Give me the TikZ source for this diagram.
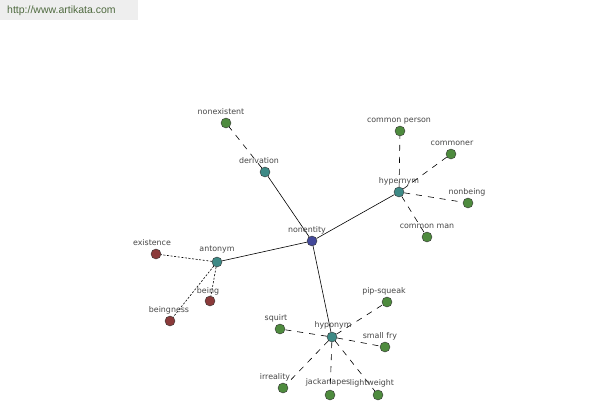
\documentclass[tikz,border=0pt]{standalone}
\usepackage{fontspec}
\setmainfont{Liberation Sans}
\newfontfamily\labfont{DejaVu Sans}
\begin{document}
\begin{tikzpicture}[x=1pt,y=-1pt,
  dot/.style={circle,draw=black!80,line width=0.4pt,minimum size=10pt,inner sep=0pt},
  lab/.style={font=\labfont\fontsize{7.9}{8.5}\selectfont,text=black!72},
  solidedge/.style={draw=black,line width=0.6pt},
  dashedge/.style={draw=black,line width=0.6pt,dash pattern=on 6pt off 6pt},
  dotedge/.style={draw=black,line width=0.6pt,dash pattern=on 2pt off 1.6pt}]
\definecolor{cgreen}{HTML}{4E8B3E}
\definecolor{cteal}{HTML}{3E8A86}
\definecolor{cblue}{HTML}{43499A}
\definecolor{cred}{HTML}{8A3A3A}
\definecolor{hdr}{HTML}{EEEEEE}
\definecolor{hdrtext}{HTML}{4F6A3F}
\tikzset{
  g/.style={dot,fill=cgreen},
  t/.style={dot,fill=cteal},
  b/.style={dot,fill=cblue},
  r/.style={dot,fill=cred}}
\useasboundingbox (0,0) rectangle (600,400);
\fill[white] (0,0) rectangle (600,400);
\fill[hdr] (0,0) rectangle (138,20);
\node[anchor=west,text=hdrtext,font=\fontsize{10.5}{11}\selectfont,inner sep=0pt] (url) at (7,11) {http://www.artikata.com};

% nodes
\node[b] (nonentity) at (312,241) {};
\node[t] (derivation) at (265,172) {};
\node[g] (nonexistent) at (226,123) {};
\node[t] (hypernym) at (399,192) {};
\node[g] (cperson) at (400,131) {};
\node[g] (commoner) at (451,154) {};
\node[g] (nonbeing) at (468,203) {};
\node[g] (cman) at (427,237) {};
\node[t] (antonym) at (217,262) {};
\node[r] (existence) at (156,254) {};
\node[r] (being) at (210,301) {};
\node[r] (beingness) at (170,321) {};
\node[t] (hyponym) at (332,337) {};
\node[g] (pipsqueak) at (387,302) {};
\node[g] (squirt) at (280,329) {};
\node[g] (smallfry) at (385,347) {};
\node[g] (irreality) at (283,388) {};
\node[g] (jackanapes) at (330,395) {};
\node[g] (lightweight) at (378,395) {};

% edges
\path[solidedge] (nonentity) -- (derivation);
\path[solidedge] (nonentity) -- (hypernym);
\path[solidedge] (nonentity) -- (antonym);
\path[solidedge] (nonentity) -- (hyponym);
\path[dashedge] (derivation) -- (nonexistent);
\path[dashedge] (hypernym) -- (cperson);
\path[dashedge] (hypernym) -- (commoner);
\path[dashedge] (hypernym) -- (nonbeing);
\path[dashedge] (hypernym) -- (cman);
\path[dotedge] (antonym) -- (existence);
\path[dotedge] (antonym) -- (being);
\path[dotedge] (antonym) -- (beingness);
\path[dashedge] (hyponym) -- (pipsqueak);
\path[dashedge] (hyponym) -- (squirt);
\path[dashedge] (hyponym) -- (smallfry);
\path[dashedge] (hyponym) -- (irreality);
\path[dashedge] (hyponym) -- (jackanapes);
\path[dashedge] (hyponym) -- (lightweight);

% labels
\node[lab] (l1) at (307,230) {nonentity};
\node[lab] (l2) at (259,161) {derivation};
\node[lab] (l3) at (221,112) {nonexistent};
\node[lab] (l4) at (399,181) {hypernym};
\node[lab] (l5) at (399,121) {common person};
\node[lab] (l6) at (452,143) {commoner};
\node[lab] (l7) at (467,192) {nonbeing};
\node[lab] (l8) at (427,226) {common man};
\node[lab] (l9) at (217,250) {antonym};
\node[lab] (l10) at (152,243) {existence};
\node[lab] (l11) at (208,291) {being};
\node[lab] (l12) at (169,310) {beingness};
\node[lab] (l13) at (384,291) {pip-squeak};
\node[lab] (l14) at (276,318) {squirt};
\node[lab] (l15) at (333,325) {hyponym};
\node[lab] (l16) at (380,336) {small fry};
\node[lab] (l17) at (275,377) {irreality};
\node[lab] (l18) at (328,382) {jackanapes};
\node[lab] (l19) at (372,383) {lightweight};
\end{tikzpicture}
\end{document}
